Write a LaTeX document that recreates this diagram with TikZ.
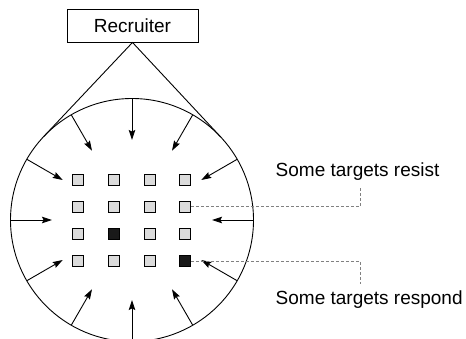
\documentclass[tikz,border=0pt]{standalone}
\usepackage{fontspec}
\setmainfont{Liberation Sans}
\usetikzlibrary{arrows.meta,calc}

\tikzset{
  x=1pt, y=1pt,
  outline/.style={draw=black, line width=0.9pt},
  pull/.style={outline, -{Stealth[length=10pt,width=6.5pt,inset=1.5pt]}},
  target/.style={draw=black, line width=0.8pt, fill=gray!28, minimum size=11pt,
                 inner sep=0pt, outer sep=0pt},
  taken/.style={target, fill=black!90},
  callout/.style={draw=gray, line width=0.8pt, dash pattern=on 3pt off 2pt},
  caption/.style={font=\fontsize{19}{22}\selectfont, inner sep=0pt, anchor=base west}
}

\begin{document}
\begin{tikzpicture}
\useasboundingbox (0,0) rectangle (466,338);

% recruiter and the circle of influence
\node[outline, minimum width=131pt, minimum height=33pt, inner sep=0pt,
      font=\fontsize{19}{22}\selectfont] (rec) at (132.5,312.5) {Recruiter};
\node[outline, circle, minimum size=243pt, inner sep=0pt, outer sep=0pt] (ring) at (132,118) {};

\draw[outline] (tangent cs:node=ring,point={(rec.south)},solution=1) -- (rec.south)
               -- (tangent cs:node=ring,point={(rec.south)},solution=2);

% inward pressure from the rim
\foreach \a in {0,30,...,330}
  \draw[pull] (ring.\a) -- ($(ring.center)+(\a:80)$);

% grid of targets
\foreach \c/\x in {1/78.3,2/114.3,3/149.7,4/185.3}
  \foreach \r/\y in {1/158,2/131.3,3/103.7,4/77}
    \node[target] (s-\c-\r) at (\x,\y) {};
\node[taken] at (s-2-3) {};
\node[taken] at (s-4-4) {};

% callouts
\node[caption] (resist) at (275.5,161) {Some targets resist};
\node[caption] (respond) at (275.5,34) {Some targets respond};
\coordinate (resist-end) at (360,152);
\coordinate (respond-end) at (360,54);
\draw[callout] (s-4-2.east) -| (resist-end);
\draw[callout] (s-4-4.east) -| (respond-end);
\end{tikzpicture}
\end{document}
